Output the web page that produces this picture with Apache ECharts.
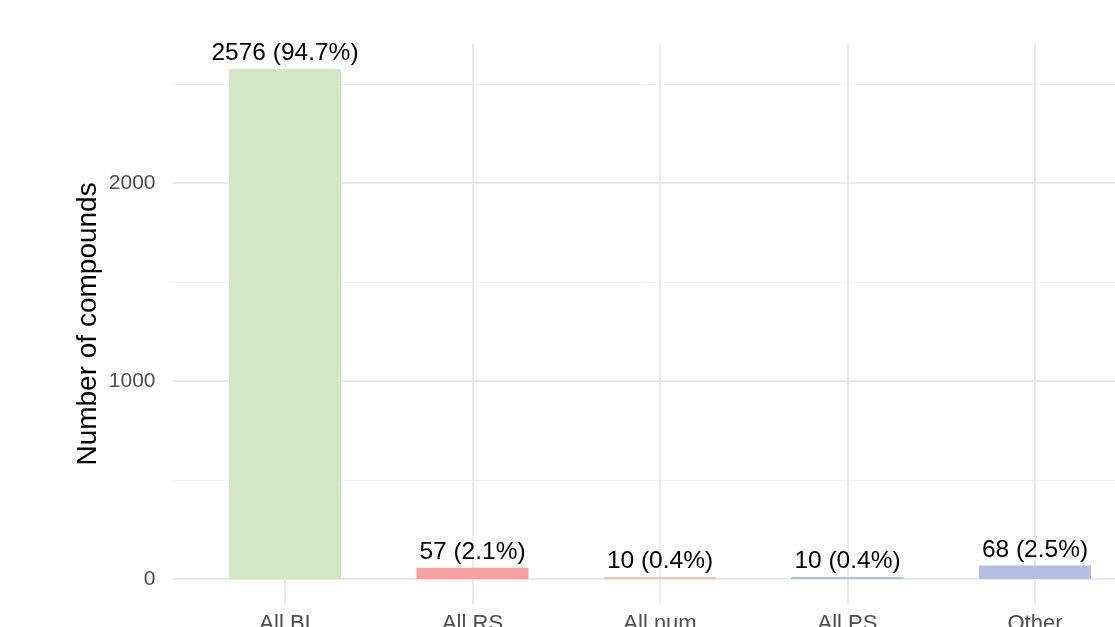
<!DOCTYPE html>
<html><head><meta charset="utf-8">
<script src="https://cdn.jsdelivr.net/npm/echarts@6/dist/echarts.min.js"></script>
<style>html,body{margin:0;padding:0;background:#fff;overflow:hidden}#c{width:1115px;height:627px}</style>
</head><body><div id="c"></div>
<script>
const categories = ['All BI', 'All RS', 'All num', 'All PS', 'Other'];
const counts = [2576, 57, 10, 10, 68];
const labels = ['2576 (94.7%)', '57 (2.1%)', '10 (0.4%)', '10 (0.4%)', '68 (2.5%)'];
const colors = ['#D4E6C4', '#F4A3A3', '#F8C3AA', '#9DC8E2', '#B2BEE3'];

const font = 'Liberation Sans, Arial, Helvetica, sans-serif';
const chart = echarts.init(document.getElementById('c'), null, {renderer: 'canvas', width: 1115, height: 627});
const yMin = -128.8, yMax = 2704.8;
chart.setOption({
  animation: false,
  backgroundColor: '#fff',
  grid: {left: 172.5, width: 975, top: 43.4, height: 561.1, containLabel: false, outerBoundsMode: 'none'},
  xAxis: {
    type: 'value', min: 0.4, max: 5.6, splitNumber: 5,
    axisLine: {show: false}, axisTick: {show: false},
    axisLabel: {
      fontFamily: font, fontSize: 22, color: '#4d4d4d', margin: 8,
      showMinLabel: false, showMaxLabel: false,
      formatter: v => (Number.isInteger(v) && v >= 1 && v <= categories.length) ? categories[v - 1] : ''
    },
    splitLine: {show: true, showMinLine: false, showMaxLine: false, lineStyle: {color: '#EBEBEB', width: 2}}
  },
  yAxis: [{
    type: 'value', min: yMin, max: yMax, splitNumber: 5,
    name: 'Number of compounds', nameLocation: 'middle', nameGap: 70, nameRotate: 90,
    nameMoveOverlap: false,
    nameTextStyle: {fontFamily: font, fontSize: 28, color: '#000'},
    axisLine: {show: false}, axisTick: {show: false},
    axisLabel: {
      fontFamily: font, fontSize: 21, color: '#4d4d4d', margin: 17,
      showMinLabel: false, showMaxLabel: false,
      formatter: v => (v >= 0 && v % 1000 === 0) ? String(v) : ''
    },
    splitLine: {show: true, showMinLine: false, showMaxLine: false, lineStyle: {color: '#F3F3F3', width: 1}}
  }, {
    type: 'value', min: yMin, max: yMax, splitNumber: 3, position: 'left',
    axisLine: {show: false}, axisTick: {show: false}, axisLabel: {show: false},
    splitLine: {show: true, showMinLine: false, showMaxLine: false, lineStyle: {color: '#EBEBEB', width: 2}}
  }],
  series: [{
    type: 'bar', yAxisIndex: 0, barWidth: 112,
    data: counts.map((v, i) => ({value: [i + 1, v], itemStyle: {color: colors[i]}})),
    label: {
      show: true, position: 'top', distance: 3,
      fontFamily: font, fontSize: 24.5, color: '#000',
      formatter: p => labels[p.dataIndex]
    }
  }]
});
</script></body></html>
